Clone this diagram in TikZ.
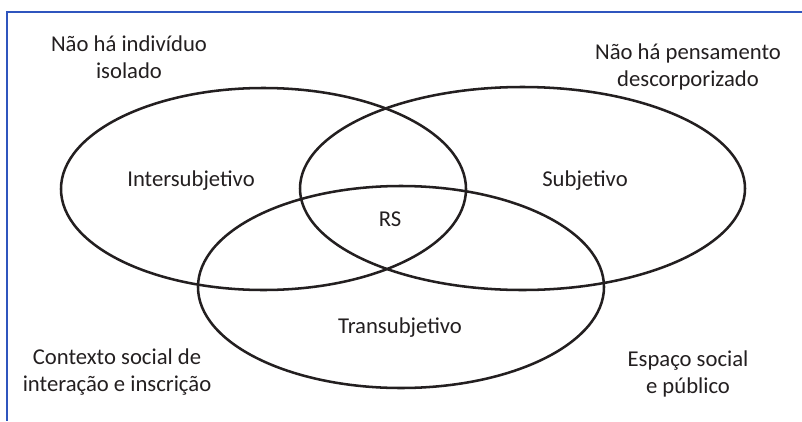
\documentclass[tikz,border=0pt]{standalone}
\usepackage{fontspec}
\setmainfont{Carlito}
\usepackage{tikz}

\begin{document}
\begin{tikzpicture}[x=0.75pt,y=0.75pt,yscale=-1,xscale=1]
\useasboundingbox (0,0) rectangle (802,421);

%Frame: blue top and left edge
\draw [color={rgb, 255:red, 47; green, 85; blue, 190 }, line width=1.1]   (802,12) -- (7,12) -- (7,421) ;

%Shape: Ellipse (Intersubjetivo)
\draw [color={rgb, 255:red, 35; green, 31; blue, 32 }, line width=1.9]   (263.5,189) ellipse (202.5 and 101) ;
%Shape: Ellipse (Subjetivo)
\draw [color={rgb, 255:red, 35; green, 31; blue, 32 }, line width=1.9]   (522.5,188.5) ellipse (222.5 and 101.5) ;
%Shape: Ellipse (Transubjetivo)
\draw [color={rgb, 255:red, 35; green, 31; blue, 32 }, line width=1.9]   (401,287) ellipse (203 and 101) ;

% Text Node
\node (inter) at (191,181) [text={rgb, 255:red, 35; green, 31; blue, 32 }, font=\fontsize{17}{20}\selectfont] {Intersubjetivo};
% Text Node
\node (subj) at (585,181) [text={rgb, 255:red, 35; green, 31; blue, 32 }, font=\fontsize{17}{20}\selectfont] {Subjetivo};
% Text Node
\node (rs) at (390,219) [text={rgb, 255:red, 35; green, 31; blue, 32 }, font=\fontsize{17}{20}\selectfont] {RS};
% Text Node
\node (trans) at (400,328) [text={rgb, 255:red, 35; green, 31; blue, 32 }, font=\fontsize{17}{20}\selectfont] {Transubjetivo};
% Text Node
\node (isol) at (129,57) [text={rgb, 255:red, 35; green, 31; blue, 32 }, font=\fontsize{17}{20}\selectfont, align=center] {Não há indivíduo\\isolado};
% Text Node
\node (desc) at (688,67) [text={rgb, 255:red, 35; green, 31; blue, 32 }, font=\fontsize{17}{20}\selectfont, align=center] {Não há pensamento\\descorporizado};
% Text Node
\node (cont) at (117,372) [text={rgb, 255:red, 35; green, 31; blue, 32 }, font=\fontsize{17}{20}\selectfont, align=center] {Contexto social de\\interação e inscrição};
% Text Node
\node (esp) at (688,374) [text={rgb, 255:red, 35; green, 31; blue, 32 }, font=\fontsize{17}{20}\selectfont, align=center] {Espaço social\\e público};
\end{tikzpicture}
\end{document}
